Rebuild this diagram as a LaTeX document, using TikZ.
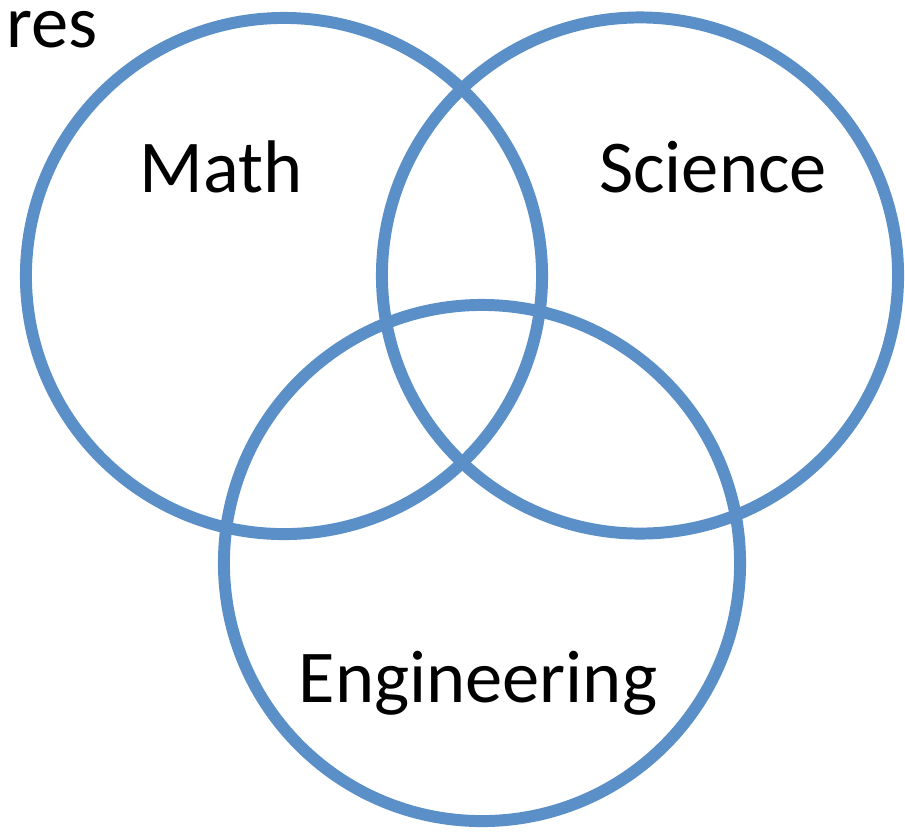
\documentclass[tikz,border=0pt]{standalone}
\usepackage{fontspec}
\setmainfont{Carlito}
\usetikzlibrary{positioning}
\definecolor{vennblue}{HTML}{5A8FC7}

\begin{document}
\begin{tikzpicture}[x=0.025cm,y=-0.025cm]
\tikzstyle{set}=[draw=vennblue,line width=8.5pt,circle,minimum size=12.9cm,inner sep=0pt]
\tikzstyle{lbl}=[inner sep=0pt,anchor=base,font=\fontsize{53}{60}\selectfont]
   \useasboundingbox (0,0) rectangle (905,838);
   \draw (284,276) node (math) [set] {};
   \draw (640,275.5) node (science) [set] {};
   \draw (482,563) node (eng) [set] {};

   \draw (221,192) node (mathlbl) [lbl] {Math};
   \draw (713,192) node (scilbl) [lbl] {Science};
   \draw (478,702) node (englbl) [lbl] {Engineering};
   \draw (6,47) node (res) [lbl,anchor=base west,text height=1ex] {res};
\end{tikzpicture}
\end{document}
